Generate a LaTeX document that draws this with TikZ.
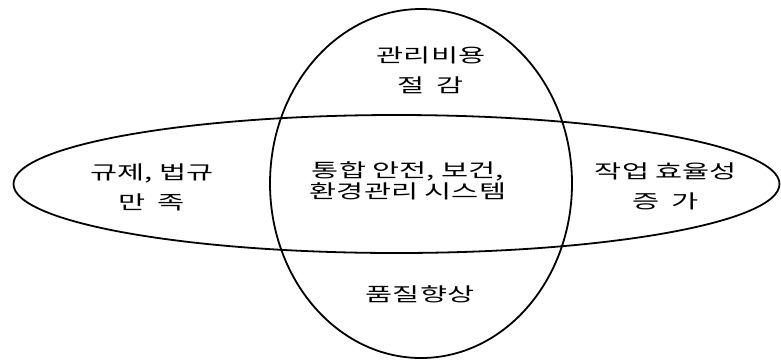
\documentclass[tikz,border=0pt]{standalone}
\usepackage{fontspec}
\newfontfamily\kr[FakeStretch=1.55]{Noto Sans CJK KR}
\newcommand{\wsp}{\hspace{12pt}}
\begin{document}
\begin{tikzpicture}[x=1pt,y=-1pt,
  ell/.style={draw, line width=1.8pt},
  lbl/.style={font=\kr\fontsize{19}{30}\selectfont, align=center, inner sep=0pt},
  lblc/.style={font=\kr\fontsize{19}{21}\selectfont, align=center, inner sep=0pt}]
\useasboundingbox (0,0) rectangle (781,360);
\draw[ell] (421,183.5) ellipse [x radius=151, y radius=174.5];
\draw[ell] (396.5,184) ellipse [x radius=383, y radius=69];
\node[lbl] (top) at (431,70.5) {관리비용\\절\wsp 감};
\node[lbl] (left) at (152,187) {규제, 법규\\만\wsp 족};
\node[lbl] (right) at (666,186.5) {작업 효율성\\증\wsp 가};
\node[lblc] (center) at (408,180.5) {통합 안전, 보건,\\환경관리 시스템};
\node[lbl] (bottom) at (420,294) {품질향상};
\end{tikzpicture}
\end{document}
